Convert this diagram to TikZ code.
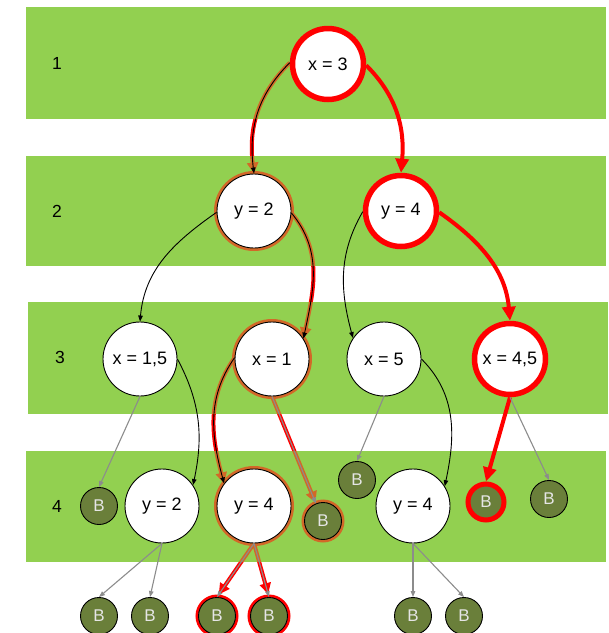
\documentclass[tikz,border=0pt]{standalone}
\usepackage{fontspec}
\setmainfont{Liberation Sans}
\usetikzlibrary{arrows.meta}

\definecolor{bandgreen}{RGB}{146,208,80}
\definecolor{leafolive}{RGB}{106,127,58}
\definecolor{edgegrey}{RGB}{140,140,140}
\definecolor{glowbrown}{RGB}{210,104,40}
\colorlet{glowcol}{red}

% red glow sits under the green bands, brown copy on top of them
\pgfdeclarelayer{glowlo}
\pgfdeclarelayer{bands}
\pgfdeclarelayer{glowhi}
\pgfsetlayers{glowlo,bands,glowhi,main}

\tikzset{
  state/.style={circle, draw=black, fill=white, line width=0.9pt, minimum size=74pt,
    inner sep=0pt, font=\fontsize{18}{20}\selectfont},
  hot/.style={state, draw=red, line width=5.5pt, minimum size=71pt},
  leaf/.style={circle, draw=black, fill=leafolive, line width=0.9pt, minimum size=37pt,
    inner sep=0pt, text=white!90!black, font=\fontsize{17}{18}\selectfont},
  hotleaf/.style={leaf, draw=red, line width=5pt, minimum size=36pt},
  link/.style={black, line width=0.9pt, -{Triangle[length=6pt,width=4.5pt]}},
  leafline/.style={edgegrey, line width=1.1pt, -{Triangle[length=6pt,width=4.5pt]}},
  hotlink/.style={red, line width=4pt, -{Triangle[length=14pt,width=13pt]}},
  glowlink/.style={glowcol, line width=4pt, -{Triangle[length=11pt,width=11pt]}},
  glowring/.style={glowcol, line width=3pt},
}

% top/bottom/left/right of the four level bands
\def\bandlist{7/119/26/606, 156/266/26/606, 302/414/28/608, 451/562/26/606}

% the highlighted search path
\newcommand{\glowpaths}{%
  \draw[glowlink] (x3.178) to[out=225,in=97] (y2.north);
  \draw[glowlink] (y2.-3) to[out=-50,in=78] (x1.33);
  \draw[glowlink] (x1.178) to[out=235,in=105] (y4m.143);
  \draw[glowlink, shorten >=1pt] (x1.south) -- (bm);
  \draw[glowlink, shorten >=3pt] (y4m.south) -- (bb3.north);
  \draw[glowlink, shorten >=3pt] (y4m.south) -- (bb4.north);
  \foreach \n/\r in {y2/38.5, x1/38.5, y4m/38.5, bm/20, bb3/20, bb4/20}
    \draw[glowring] (\n) circle[radius=\r pt];
}

\begin{document}
\begin{tikzpicture}[x=1pt, y=1pt]
  \useasboundingbox (0,0) rectangle (609,-633);

  % --- bands and level numbers ---
  \begin{pgfonlayer}{bands}
    \foreach \t/\b/\l/\r in \bandlist
      \fill[bandgreen] (\l,-\t) rectangle (\r,-\b);
  \end{pgfonlayer}
  \foreach \n/\y/\x in {1/63/57, 2/211/57, 3/357/60, 4/506/57}
    \node[font=\fontsize{17.5}{20}\selectfont] (lvl\n) at (\x,-\y) {\n};

  % --- tree nodes ---
  \node[hot]   (x3)  at (328,-64)  {x = 3};
  \node[state] (y2)  at (254,-211) {y = 2};
  \node[hot]   (y4)  at (401,-211) {y = 4};
  \node[state] (x15) at (140,-359) {x = 1,5};
  \node[state] (x1)  at (272,-359) {x = 1};
  \node[state] (x5)  at (384,-359) {x = 5};
  \node[hot]   (x45) at (510,-359) {x = 4,5};

  \node[leaf]    (b1)   at (99,-506)  {B};
  \node[state]   (y2b)  at (162,-506) {y = 2};
  \node[state]   (y4m)  at (254,-506) {y = 4};
  \node[leaf]    (bm)   at (323,-521) {B};
  \node[leaf]    (bx5)  at (357,-480) {B};
  \node[state]   (y4r)  at (413,-506) {y = 4};
  \node[hotleaf] (bhot) at (486,-502) {B};
  \node[leaf]    (bx45) at (549,-499) {B};

  \foreach \n/\x in {bb1/99, bb2/150, bb3/217, bb4/269, bb5/413, bb6/464}
    \node[leaf] (\n) at (\x,-616) {B};

  % --- connectors ---
  \draw[link] (x3.178) to[out=225,in=97] (y2.north);
  \draw[hotlink] (x3.-2) to[out=-45,in=85] (y4.north);
  \draw[link] (y2.182) to[out=215,in=85] (x15.north);
  \draw[link] (y2.-3) to[out=-50,in=78] (x1.33);
  \draw[link] (y4.181) to[out=240,in=105] (x5.146);
  \draw[hotlink] (y4.-2) to[out=-35,in=95] (x45.north);

  \draw[leafline] (x15.south) -- (b1.north);
  \draw[link] (x15.0) to[out=-62,in=78] (y2b.34);
  \draw[link] (x1.178) to[out=235,in=105] (y4m.143);
  \draw[leafline] (x1.south) -- (bm);
  \draw[leafline] (x5.south) -- (bx5.north);
  \draw[link] (x5.0) to[out=-45,in=78] (y4r.32);
  \draw[hotlink] (x45.south) -- (bhot.north);
  \draw[leafline] (x45.south) -- (bx45.north);

  \foreach \up/\dn in {y2b/bb1, y2b/bb2, y4m/bb3, y4m/bb4, y4r/bb5, y4r/bb6}
    \draw[leafline] (\up.south) -- (\dn.north);

  % --- glow along the highlighted path ---
  \begin{pgfonlayer}{glowlo}
    \glowpaths
  \end{pgfonlayer}
  \begin{pgfonlayer}{glowhi}
    \begin{scope}
      \clip \foreach \t/\b/\l/\r in \bandlist {(\l,-\t) rectangle (\r,-\b)};
      \colorlet{glowcol}{glowbrown}
      \glowpaths
    \end{scope}
  \end{pgfonlayer}
\end{tikzpicture}
\end{document}
